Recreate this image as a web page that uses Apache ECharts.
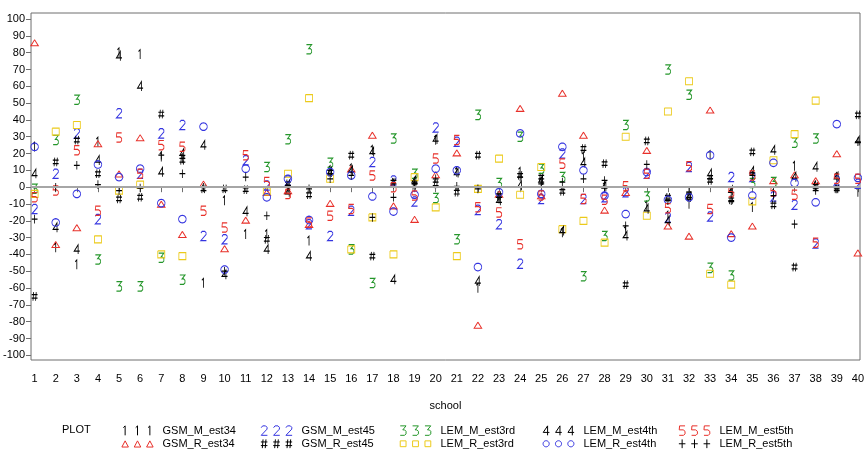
<!DOCTYPE html>
<html><head><meta charset="utf-8">
<script src="https://cdn.jsdelivr.net/npm/echarts@6/dist/echarts.min.js"></script>
<style>html,body{margin:0;padding:0;background:#fff}#c{width:867px;height:453px}</style>
</head><body><div id="c"></div>
<script>
const schools = [1,2,3,4,5,6,7,8,9,10,11,12,13,14,15,16,17,18,19,20,21,22,23,24,25,26,27,28,29,30,31,32,33,34,35,36,37,38,39,40];
const yTicks = [-100,-90,-80,-70,-60,-50,-40,-30,-20,-10,0,10,20,30,40,50,60,70,80,90,100];

const GSM_M_est34 = [24,-36,-46,27,80,79,18,17,-57,-8,-28,-28,-1,-32,10,11,22,2,3,28,9,-60,-7,9,3,-27,18,0,-26,-11,-17,-10,19,-4,-12,-4,12.5,1,6,-3];
const GSM_R_est34 = [86,-34,-24,26,8,29.5,-10,-28,2,-36.5,-19.5,-3,-2,-22,-9.5,11,31,-11,-19,7.5,20.5,-82,-4,47,-5,56,31,-13.5,-3,22,-23,-29,46,-27.5,-23,4,7.5,4,20,-39];
const GSM_M_est45 = [-13,8,32,-19,44,8,32,37,-29,-31,16,1,4,-22,-29,-14,15,4,-8.5,35.5,27,-13.5,-22,-45.5,-7,20,-7,-6,-3,8,-18,12,-17.5,6,6,-5.5,-10.5,-33.5,4,2];
const GSM_R_est45 = [-65,15,28,8,-7,-6,43.5,16,-1,-1,-1.5,-31,2,-4.5,9,19,-41,3,1,2,-3,19,-5,7,6,-2.5,23,14,-58,27.5,-6,-5,4,-7.5,21,-10.5,-47.5,0.5,-1,43];
const LEM_M_est3rd = [-1,28,52,-43,-59,-59,-42,-55,null,null,null,12,28.5,82,14.5,-37,-57,29,8,-6.5,-31,43,2.5,30,11,6,-53,-29,37,-5.5,70,55,-48,-52.5,2.5,3,26.5,29,null,null];
const LEM_R_est3rd = [-4,33,37,-31,-2,1.5,-40,-41,null,null,null,-2.5,8,53,5,-37,-18,-40,6,-12,-41,-1,17,-4.5,12,-25,-20,-33,30,-17,45,63,-51.5,-58,-8.5,16,31.5,51.5,null,null];
const LEM_M_est4th = [8,-24,-37,16,78,60,9,20,25,-52,-14.5,-37,-3,-41,9,10,21,-55,4,28.5,8.5,-56,-8,1,4,-26,14.5,0.5,-29,-13,-20,-6,8,-2,9.5,22,6,12,6,27.5];
const LEM_R_est4th = [24,-21,-4,13.5,6,11,-9.5,-19,36,-49,11,-6,5,-19.5,9,7,-5.5,-14.5,-4.5,11,10,-47.5,-3,32,-4,24,10,-5,-16,9,-7.5,-6,19,-30,-5,14.5,2.5,-9,37.5,5.5];
const LEM_M_est5th = [-6,-2,22,-14,29.5,8,25,24,-14,-24,19,3,-4,-21,-17,-13,7,0,-5,17,28,-12,-15,-34,-5,14,-7,-7.5,0.5,8,-12.5,12.5,-13,-3,7,-2.5,-4.5,-33,5,5];
const LEM_R_est5th = [-19,0,13,1.5,-2,-0.5,19,8,0,-50,6,-17,1,-1,5,7,-18,-6,2,5,0.5,-1,-6,6,2,3,5,4,-23,13.5,-8,-3,5,-8,7,-5,-22,-2,-1,27];

const BLACK = '#000000', RED = '#e8302a', BLUE = '#3434e0', GREEN = '#24962a', YELLOW = '#ecca1a';

// glyphs as polylines inside a 10 x 14 box
const circlePts = [];
for (let k = 0; k <= 24; k++) { const a = k / 24 * Math.PI * 2; circlePts.push([5 + 4.2 * Math.cos(a), 7 + 4.2 * Math.sin(a)]); }
const GLYPHS = {
  one: [[[2.5,3],[5,0.5],[5,13.5]]],
  two: [[[1,3],[3,0.5],[7,0.5],[9,2.5],[9,5],[1,13.5],[9.5,13.5]]],
  three: [[[1,0.5],[9,0.5],[4.5,6],[7,6],[9,8],[9,11.5],[7,13.5],[1,13.5]]],
  four: [[[7,13.5],[7,0.5],[1,9.5],[9.5,9.5]]],
  five: [[[9,0.5],[1.5,0.5],[1,6],[6.5,6],[9,8],[9,11.5],[7,13.5],[1,13.5]]],
  hash: [[[3.5,1],[2.5,13]],[[7.5,1],[6.5,13]],[[0.5,4.5],[9.5,4.5]],[[0.5,9.5],[9.5,9.5]]],
  plus: [[[5,1],[5,13]],[[0.5,7],[9.5,7]]],
  tri: [[[5,3],[9.5,11.5],[0.5,11.5],[5,3]]],
  square: [[[1,3],[9,3],[9,11],[1,11],[1,3]]],
  circle: [circlePts]
};
const SIZES = {one:[6.5,10],two:[6.5,10],three:[6.5,10],four:[6.5,10],five:[6.5,10],hash:[6.5,10],plus:[6.5,10],
  tri:[8.3,10],square:[8.75,12.25],circle:[9,12.6]};

function polyPath(polys, dx) {
  return polys.map(p => p.map((pt, k) => (k ? 'L' : 'M') + (pt[0] + dx).toFixed(2) + ' ' + pt[1].toFixed(2)).join(' ')).join(' ');
}
function symbolPath(g) { return 'path://M0 0 M10 14 ' + polyPath(GLYPHS[g], 0); }
function legendPath(g) { return 'path://M0 0 M44 14 ' + [0, 17, 34].map(dx => polyPath(GLYPHS[g], dx)).join(' '); }

const defs = [
  {name:'GSM_M_est34', data:GSM_M_est34, glyph:'one', color:BLACK},
  {name:'GSM_R_est34', data:GSM_R_est34, glyph:'tri', color:RED},
  {name:'GSM_M_est45', data:GSM_M_est45, glyph:'two', color:BLUE},
  {name:'GSM_R_est45', data:GSM_R_est45, glyph:'hash', color:BLACK},
  {name:'LEM_M_est3rd', data:LEM_M_est3rd, glyph:'three', color:GREEN},
  {name:'LEM_R_est3rd', data:LEM_R_est3rd, glyph:'square', color:YELLOW},
  {name:'LEM_M_est4th', data:LEM_M_est4th, glyph:'four', color:BLACK},
  {name:'LEM_R_est4th', data:LEM_R_est4th, glyph:'circle', color:BLUE},
  {name:'LEM_M_est5th', data:LEM_M_est5th, glyph:'five', color:RED},
  {name:'LEM_R_est5th', data:LEM_R_est5th, glyph:'plus', color:BLACK}
];

const FONT = "'Liberation Sans', Arial, sans-serif";
const AXC = '#6e6e6e';

const series = [{
  type: 'scatter', name: '_ref', data: [], z: 1, silent: true,
  markLine: {silent: true, symbol: ['none','none'], label: {show: false}, animation: false,
    lineStyle: {color: '#a6a6a6', width: 2, type: 'solid'}, emphasis: {disabled: true},
    data: [{yAxis: 0}]}
}];
defs.forEach(d => {
  const pts = [];
  d.data.forEach((v, i) => { if (v !== null) pts.push([schools[i], v]); });
  series.push({
    type: 'scatter', name: d.name, data: pts, z: 2,
    symbol: symbolPath(d.glyph), symbolSize: SIZES[d.glyph],
    itemStyle: {color: 'none', borderColor: d.color, borderWidth: 1, opacity: 1},
    emphasis: {disabled: true}, animation: false
  });
});

const cols = [119, 258, 397, 540, 676];
const legends = cols.map((left, c) => ({
  orient: 'vertical', left: left, top: 423, padding: 0, itemGap: -2,
  itemWidth: 32, itemHeight: 10.2, selectedMode: false,
  textStyle: {fontFamily: FONT, fontSize: 11, color: '#000', padding: [0,0,0,4], lineHeight: 12},
  data: [defs[2*c], defs[2*c+1]].map(d => ({
    name: d.name, icon: legendPath(d.glyph),
    itemStyle: {color: 'none', borderColor: d.color, borderWidth: 1}
  }))
}));

const chart = echarts.init(document.getElementById('c'), null, {renderer: 'canvas'});
chart.setOption({
  animation: false,
  backgroundColor: '#fff',
  title: {text: 'PLOT', left: 62, top: 424, padding: 0,
    textStyle: {fontFamily: FONT, fontSize: 11, fontWeight: 'normal', color: '#000'}},
  legend: legends,
  grid: {left: 27, top: 13, right: 7, bottom: 93, show: true, borderColor: AXC, borderWidth: 1, containLabel: false},
  xAxis: {
    type: 'value', min: 0.83, max: 40.1,
    name: 'school', nameLocation: 'middle', nameGap: 40,
    nameTextStyle: {fontFamily: FONT, fontSize: 11, color: '#000'},
    axisLine: {show: false},
    axisTick: {show: true, inside: false, length: 5, lineStyle: {color: AXC}, customValues: schools},
    axisLabel: {fontFamily: FONT, fontSize: 11, color: '#000', margin: 13, customValues: schools},
    splitLine: {show: false}
  },
  yAxis: {
    type: 'value', min: -102.8, max: 103.6,
    axisLine: {show: false},
    axisTick: {show: true, inside: false, length: 5, lineStyle: {color: AXC}, customValues: yTicks},
    axisLabel: {fontFamily: FONT, fontSize: 11, color: '#000', margin: 6, customValues: yTicks},
    splitLine: {show: false}
  },
  series: series
});
</script></body></html>
